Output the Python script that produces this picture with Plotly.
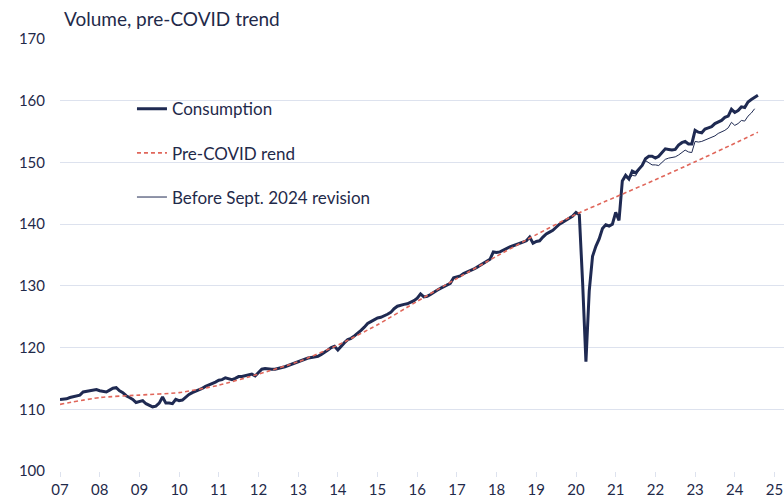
import plotly.graph_objects as go

# ---- data (monthly, Jan 2007 = index 0) ----
start_year = 2007
consumption = [
    # 2007
    111.6, 111.6, 111.7, 111.9, 112.0, 112.1, 112.3, 112.8, 112.9, 112.9, 113.1, 113.2,
    # 2008
    113.0, 112.9, 112.8, 113.1, 113.4, 113.5, 113.0, 112.7, 112.2, 111.9, 111.6, 111.1,
    # 2009
    111.3, 111.4, 110.9, 110.6, 110.4, 110.5, 111.0, 112.0, 111.0, 111.0, 110.9, 111.6,
    # 2010
    111.4, 111.5, 112.0, 112.4, 112.7, 112.9, 113.2, 113.4, 113.7, 113.9, 114.1, 114.4,
    # 2011
    114.7, 114.8, 115.1, 114.9, 114.8, 115.0, 115.3, 115.3, 115.4, 115.6, 115.7, 115.4,
    # 2012
    116.0, 116.5, 116.6, 116.5, 116.5, 116.5, 116.6, 116.8, 116.9, 117.1, 117.3, 117.5,
    # 2013
    117.8, 118.0, 118.2, 118.3, 118.4, 118.5, 118.6, 118.9, 119.2, 119.6, 120.0, 120.2,
    # 2014
    119.6, 120.3, 120.8, 121.3, 121.5, 121.9, 122.3, 122.8, 123.3, 123.9, 124.2, 124.5,
    # 2015
    124.8, 124.9, 125.1, 125.4, 125.7, 126.3, 126.7, 126.9, 127.0, 127.1, 127.3, 127.6,
    # 2016
    128.0, 128.7, 128.2, 128.3, 128.6, 129.0, 129.3, 129.6, 129.9, 130.1, 130.4, 131.3,
    # 2017
    131.5, 131.6, 132.0, 132.2, 132.4, 132.7, 133.0, 133.3, 133.6, 134.0, 134.3, 135.5,
    # 2018
    135.4, 135.5, 135.8, 136.1, 136.3, 136.5, 136.7, 137.0, 137.2, 137.3, 137.9, 136.9,
    # 2019
    137.2, 137.3, 137.9, 138.4, 138.7, 139.0, 139.5, 140.0, 140.3, 140.6, 140.9, 141.3,
    # 2020
    141.9, 141.5, 130.5, 117.7, 129.2, 134.8, 136.4, 137.6, 139.3, 139.9, 139.7, 140.0,
    # 2021
    141.9, 140.6, 147.0, 147.9, 147.3, 148.6, 148.3, 149.0, 149.5, 150.6, 151.0, 151.0,
    # 2022
    150.7, 151.0, 151.6, 152.2, 152.1, 152.0, 152.1, 152.8, 153.2, 153.4, 153.0, 153.0,
    # 2023
    155.2, 154.9, 154.8, 155.4, 155.6, 155.8, 156.3, 156.5, 156.8, 157.3, 157.5, 158.6,
    # 2024 (Jan-Aug)
    158.1, 158.4, 159.0, 158.9, 159.8, 160.2, 160.5, 160.9,
]

# Before Sept. 2024 revision: from Mar 2021 (index 170) to Jul 2024
revision_start_index = 170
before_revision = [
    147.0, 147.6, 147.3, 147.9, 147.8, 148.8, 149.6, 150.3, 150.0, 149.6,
    149.6, 149.5, 150.0, 150.5, 150.7, 150.8, 150.9, 151.2, 151.6, 152.0, 151.7, 151.6,
    153.4, 153.3, 153.4, 153.6, 153.8, 154.1, 154.3, 154.7, 154.9, 155.2, 155.6, 156.5,
    156.0, 156.3, 156.8, 156.7, 157.5, 158.0, 158.7,
]

# Pre-COVID trend, read at year starts
trend_years = [2007, 2008, 2009, 2010, 2011, 2012, 2013, 2014, 2015, 2016,
               2017, 2018, 2019, 2020, 2021, 2022, 2023, 2024, 2024 + 7 / 12]
trend_values = [110.8, 111.9, 112.3, 112.7, 113.9, 115.7, 117.7, 120.4, 123.7, 127.5,
                131.2, 134.8, 138.3, 141.6, 144.4, 147.2, 150.1, 153.1, 154.9]

tick_years = list(range(2007, 2026))
tick_labels = ["07", "08", "09", "10", "11", "12", "13", "14", "15", "16",
               "17", "18", "19", "20", "21", "22", "23", "24", "25"]
y_ticks = [100, 110, 120, 130, 140, 150, 160, 170]

x_cons = [start_year + i / 12 for i in range(len(consumption))]
x_rev = [start_year + (revision_start_index + i) / 12 for i in range(len(before_revision))]

NAVY = "#1f2a52"
TEXT = "#1f2a4a"
RED = "#e0665a"
GRID = "#dde2ee"
FONT = "Lato, 'Open Sans', sans-serif"

fig = go.Figure()
fig.add_trace(go.Scatter(
    x=x_rev, y=before_revision, mode="lines", name="Before Sept. 2024 revision",
    line=dict(color=NAVY, width=1), legendrank=3, legendgroup="c"))
fig.add_trace(go.Scatter(
    x=x_cons, y=consumption, mode="lines", name="Consumption",
    line=dict(color=NAVY, width=3), legendrank=1, legendgroup="a"))
fig.add_trace(go.Scatter(
    x=trend_years, y=trend_values, mode="lines", name="Pre-COVID rend",
    line=dict(color=RED, width=1.6, dash="4px,3px", shape="spline", smoothing=0.6),
    legendrank=2, legendgroup="b"))

fig.update_layout(
    width=784, height=498,
    margin=dict(l=60, r=0, t=39, b=27, autoexpand=False),
    paper_bgcolor="white", plot_bgcolor="white",
    font=dict(family=FONT, color=TEXT, size=15),
    showlegend=True,
    legend=dict(x=0.0994, xanchor="left", y=0.879, yanchor="top",
                bgcolor="rgba(0,0,0,0)", font=dict(size=17, color=TEXT),
                tracegroupgap=19, itemwidth=30, traceorder="grouped"),
    xaxis=dict(range=[2007, 2025.24], tickvals=tick_years, ticktext=tick_labels,
               showgrid=False, showline=False, zeroline=False, automargin=False,
               ticks="outside", ticklen=5, tickcolor=GRID, tickwidth=1,
               ticklabelstandoff=0, tickfont=dict(size=15, color=TEXT)),
    yaxis=dict(range=[100, 170], tickvals=y_ticks, showgrid=True, gridcolor=GRID,
               gridwidth=1.3, zeroline=False, showline=False, ticks="", automargin=False,
               ticklabelstandoff=14, tickfont=dict(size=15, color=TEXT)),
    annotations=[dict(text="Volume, pre-COVID trend", xref="paper", yref="paper",
                      x=0.003, y=1.0486, xanchor="left", yanchor="middle",
                      showarrow=False, font=dict(size=19, color=TEXT))],
)

fig.write_html("out.html", config={"displayModeBar": False},
               post_script="document.body.style.margin='0';")
